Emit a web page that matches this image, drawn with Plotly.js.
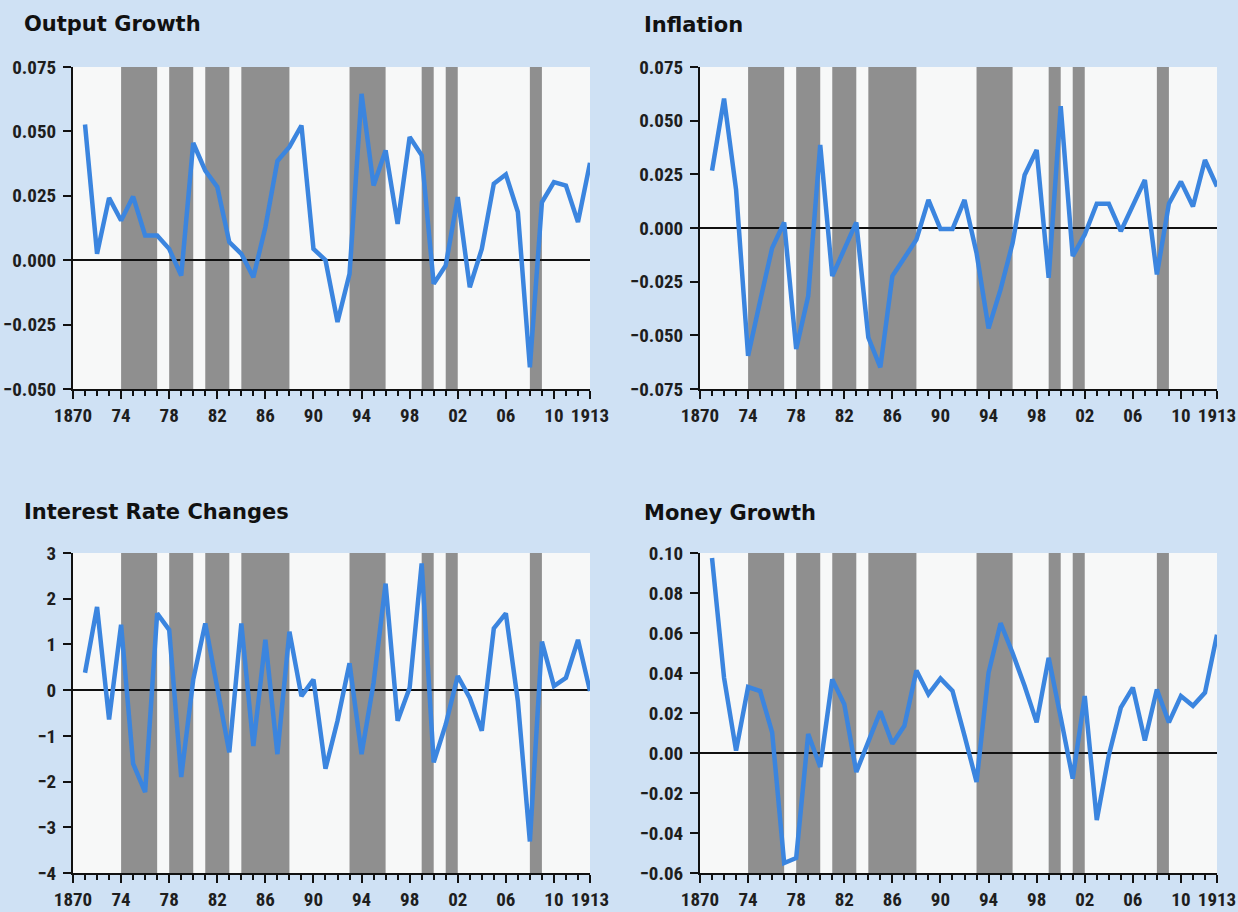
<!DOCTYPE html>
<html>
<head>
<meta charset="utf-8">
<script src="https://cdn.plot.ly/plotly-3.0.1.min.js"></script>
<style>
  html, body { margin: 0; padding: 0; background: #cfe1f4; }
  #chart { width: 1238px; height: 912px; }
</style>
</head>
<body>
<div id="chart"></div>
<script>
// ---- Data ----
const years = [1871,1872,1873,1874,1875,1876,1877,1878,1879,1880,1881,1882,1883,1884,1885,1886,1887,1888,1889,1890,
               1891,1892,1893,1894,1895,1896,1897,1898,1899,1900,1901,1902,1903,1904,1905,1906,1907,1908,1909,1910,
               1911,1912,1913];

const outputGrowth = [0.0527,0.0025,0.0242,0.0154,0.0247,0.0096,0.0096,0.0044,-0.0060,0.0455,
                      0.0348,0.0284,0.0070,0.0025,-0.0066,0.0128,0.0385,0.0440,0.0523,0.0044,
                      0.0000,-0.0240,-0.0053,0.0646,0.0290,0.0426,0.0141,0.0478,0.0407,-0.0092,
                      -0.0020,0.0245,-0.0105,0.0044,0.0297,0.0333,0.0187,-0.0416,0.0225,0.0303,
                      0.0290,0.0148,0.0378];

const inflation = [0.0267,0.0603,0.0178,-0.0595,-0.0340,-0.0093,0.0026,-0.0564,-0.0317,0.0387,
                   -0.0224,-0.0100,0.0026,-0.0510,-0.0649,-0.0224,-0.0139,-0.0054,0.0131,-0.0005,
                   -0.0005,0.0131,-0.0116,-0.0468,-0.0286,-0.0070,0.0247,0.0363,-0.0232,0.0567,
                   -0.0131,-0.0031,0.0113,0.0113,-0.0015,0.0100,0.0224,-0.0216,0.0113,0.0216,
                   0.0100,0.0317,0.0193];

const interestRateChanges = [0.38,1.82,-0.64,1.43,-1.61,-2.23,1.68,1.32,-1.90,0.23,
                             1.46,0.01,-1.36,1.46,-1.22,1.10,-1.40,1.28,-0.13,0.23,
                             -1.72,-0.67,0.59,-1.40,0.16,2.33,-0.67,0.05,2.77,-1.58,
                             -0.75,0.31,-0.17,-0.89,1.35,1.68,-0.24,-3.31,1.06,0.09,
                             0.27,1.10,-0.02];

const moneyGrowth = [0.0975,0.0376,0.0012,0.0330,0.0310,0.0103,-0.0550,-0.0525,0.0095,-0.0070,
                     0.0368,0.0244,-0.0095,0.0054,0.0208,0.0046,0.0136,0.0413,0.0294,0.0373,
                     0.0310,0.0087,-0.0145,0.0401,0.0649,0.0500,0.0335,0.0153,0.0476,0.0178,
                     -0.0128,0.0285,-0.0335,-0.0012,0.0227,0.0327,0.0062,0.0318,0.0153,0.0285,
                     0.0236,0.0302,0.0591];

// Shaded periods (recessions)
const bandStart = [1874,1878,1881,1884,1893,1899,1901,1908];
const bandEnd   = [1877,1880,1883,1888,1896,1900,1902,1909];

// Tick labels
const xTickVals = [1870,1874,1878,1882,1886,1890,1894,1898,1902,1906,1910,1913];
const xTickText = ['1870','74','78','82','86','90','94','98','02','06','10','1913'];

const panelTitles = ['Output Growth','Inflation','Interest Rate Changes','Money Growth'];

// ---- Layout helpers ----
const W = 1238, H = 912;
const lineColor = '#3b85df';
const narrow = 'Liberation Sans Narrow, Roboto Condensed, Arial Narrow, Roboto, sans-serif';
const xTickFont = {family: narrow, size: 19, color: '#1e1e1e', weight: 700};
const yTickFont = {family: narrow, size: 19, color: '#1e1e1e', weight: 700};

const colL = [73 / W, 590 / W];
const colR = [700 / W, 1217 / W];
const rowT = [1 - 389 / H, 1 - 67 / H];
const rowB = [1 - 873 / H, 1 - 553 / H];

function xAxis(domain, anchor) {
  return {
    domain: domain, anchor: anchor, range: [1870, 1913],
    tickmode: 'array', tickvals: xTickVals, ticktext: xTickText, tickangle: 0,
    ticks: 'outside', ticklen: 8, tickwidth: 2, tickcolor: '#111',
    minor: {tickmode: 'linear', tick0: 1870, dtick: 1, ticks: 'outside', ticklen: 5, tickwidth: 2, tickcolor: '#111', showgrid: false},
    showline: true, linecolor: '#111', linewidth: 2, mirror: false,
    showgrid: false, zeroline: false, tickfont: xTickFont, fixedrange: true
  };
}
function yAxis(domain, anchor, range, dtick, fmt) {
  return {
    domain: domain, anchor: anchor, range: range,
    tickmode: 'linear', tick0: range[0], dtick: dtick, tickformat: fmt, tickangle: 0,
    ticks: 'outside', ticklen: 8, tickwidth: 2, tickcolor: '#111',
    ticklabelstandoff: 3,
    showline: true, linecolor: '#111', linewidth: 2, mirror: false,
    showgrid: false, zeroline: true, zerolinecolor: '#111', zerolinewidth: 2.5,
    tickfont: yTickFont, fixedrange: true
  };
}

const series = [outputGrowth, inflation, interestRateChanges, moneyGrowth];
const axisIds = [['x','y'],['x2','y2'],['x3','y3'],['x4','y4']];

const traces = series.map((s, i) => ({
  x: years, y: s, type: 'scatter', mode: 'lines',
  xaxis: axisIds[i][0], yaxis: axisIds[i][1],
  line: {color: lineColor, width: 4.5, shape: 'linear'},
  hoverinfo: 'x+y', showlegend: false
}));

const shapes = [];
axisIds.forEach(([xa, ya]) => {
  bandStart.forEach((s, k) => {
    shapes.push({
      type: 'rect', xref: xa, yref: ya + ' domain',
      x0: s, x1: bandEnd[k], y0: 0, y1: 1,
      fillcolor: '#8f8f8f', line: {width: 0}, layer: 'below'
    });
  });
});

const titleFont = {family: 'DejaVu Sans, Noto Sans, sans-serif', size: 21, color: '#111', weight: 900};
const titlePos = [[22, 24], [642, 25], [22, 512], [642, 513]];
const annotations = panelTitles.map((t, i) => ({
  text: '<b>' + t + '</b>', xref: 'paper', yref: 'paper',
  x: titlePos[i][0] / W, y: 1 - titlePos[i][1] / H,
  xanchor: 'left', yanchor: 'middle', showarrow: false, font: titleFont
}));

const layout = {
  width: W, height: H,
  margin: {l: 0, r: 0, t: 0, b: 0},
  paper_bgcolor: '#cfe1f4',
  plot_bgcolor: '#f7f8f8',
  showlegend: false,
  xaxis: xAxis(colL, 'y'),
  yaxis: yAxis(rowT, 'x', [-0.05, 0.075], 0.025, '.3f'),
  xaxis2: xAxis(colR, 'y2'),
  yaxis2: yAxis(rowT, 'x2', [-0.075, 0.075], 0.025, '.3f'),
  xaxis3: xAxis(colL, 'y3'),
  yaxis3: yAxis(rowB, 'x3', [-4, 3], 1, 'd'),
  xaxis4: xAxis(colR, 'y4'),
  yaxis4: yAxis(rowB, 'x4', [-0.06, 0.10], 0.02, '.2f'),
  shapes: shapes,
  annotations: annotations
};

Plotly.newPlot('chart', traces, layout, {displayModeBar: false, staticPlot: true});
</script>
</body>
</html>
